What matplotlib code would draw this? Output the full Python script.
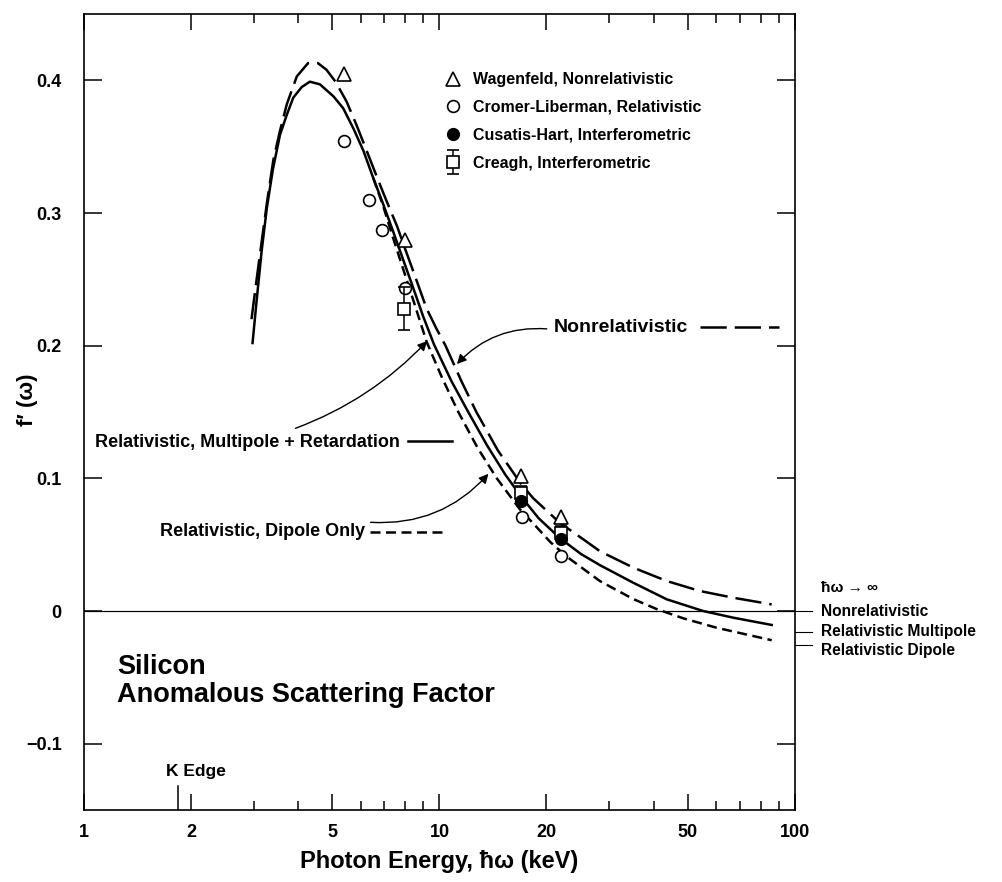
import matplotlib
matplotlib.use("Agg")
import matplotlib.pyplot as plt
from matplotlib.legend_handler import HandlerErrorbar

plt.rcParams['font.family'] = ['Liberation Sans', 'DejaVu Sans']
plt.rcParams['font.weight'] = 'bold'

# calculated curves, f'(omega) vs photon energy (keV)
e_nonrel = [2.96, 3.06, 3.16, 3.28, 3.41, 3.56, 3.72, 3.97, 4.27, 4.55, 4.81, 5.1, 5.48,
            5.85, 6.24, 6.65, 7.1, 7.6, 8.08, 8.6, 9.2, 9.8, 10.4, 11.54, 12.7, 14.6, 17.0,
            18.36, 21.8, 25.4, 28.3, 35.1, 43.6, 54.0, 67.1, 86]
f_nonrel = [0.220, 0.250, 0.278, 0.310, 0.340, 0.362, 0.382, 0.403, 0.413, 0.413, 0.408,
            0.399, 0.384, 0.366, 0.347, 0.328, 0.309, 0.290, 0.270, 0.250, 0.228, 0.213,
            0.200, 0.173, 0.150, 0.121, 0.0955, 0.085, 0.0665, 0.054, 0.045, 0.0327,
            0.0226, 0.0151, 0.010, 0.005]

e_multi = [2.98, 3.06, 3.16, 3.27, 3.40, 3.56, 3.72, 3.88, 4.10, 4.32, 4.61, 5.03, 5.36,
           5.72, 6.11, 6.51, 6.95, 7.41, 7.9, 8.4, 9.0, 9.65, 10.82, 12.05, 13.6, 15.3,
           17.0, 19.0, 21.8, 25.0, 28.3, 35.1, 43.6, 55.2, 67, 86]
f_multi = [0.202, 0.234, 0.271, 0.304, 0.333, 0.359, 0.374, 0.387, 0.395, 0.399, 0.397,
           0.388, 0.379, 0.364, 0.347, 0.3265, 0.3065, 0.286, 0.265, 0.245, 0.222, 0.201,
           0.173, 0.150, 0.125, 0.103, 0.086, 0.070, 0.055, 0.043, 0.0345, 0.0213, 0.0088,
           0.0, -0.005, -0.0105]

e_dipole = [6.51, 6.95, 7.41, 7.9, 8.4, 9.2, 10.2, 11.3, 12.8, 14.5, 16.8, 18.36, 20.5,
            22.8, 28.3, 35.1, 40.8, 48.5, 60.2, 86]
f_dipole = [0.3265, 0.305, 0.281, 0.258, 0.236, 0.203, 0.175, 0.150, 0.123, 0.100, 0.077,
            0.066, 0.052, 0.041, 0.0225, 0.009, 0.0015, -0.0055, -0.0126, -0.022]

# tabulated / measured points
e_wag = [5.4, 8.0, 17.0, 22.0]
f_wag = [0.405, 0.280, 0.1015, 0.0705]

e_cromer = [5.4, 6.35, 6.9, 8.0, 17.1, 22.0]
f_cromer = [0.354, 0.3095, 0.287, 0.2437, 0.0705, 0.0414]

e_cusatis = [17.0, 22.0]
f_cusatis = [0.083, 0.054]

e_creagh = [7.95, 17.0, 22.0]
f_creagh = [0.228, 0.089, 0.059]
err_creagh = [0.016, 0.005, 0.005]

# high energy limits
f_limits = [0.0, -0.0156, -0.0256]
limit_labels = ['Nonrelativistic', 'Relativistic Multipole', 'Relativistic Dipole']

k_edge = 1.839

x_major = [1, 2, 5, 10, 20, 50, 100]
x_minor = [3, 4, 6, 7, 8, 9, 30, 40, 60, 70, 80, 90]
y_ticks = [-0.1, 0.0, 0.1, 0.2, 0.3, 0.4]
y_labels = ['\u22120.1', '0', '0.1', '0.2', '0.3', '0.4']

fig = plt.figure(figsize=(10.03, 8.82), dpi=100)
ax = fig.add_axes([0.0837, 0.0816, 0.7089, 0.9025])

lw = 1.8
long_dash = (0, (10.5, 3.2))
short_dash = (0, (4.0, 2.2))

ax.plot(e_nonrel, f_nonrel, color='k', lw=lw, linestyle=long_dash)
ax.plot(e_dipole, f_dipole, color='k', lw=lw, linestyle=short_dash)
ax.plot(e_multi, f_multi, color='k', lw=lw)

ax.axhline(0, color='k', lw=0.8)

h_wag, = ax.plot(e_wag, f_wag, '^', ms=9.5, mfc='white', mec='k', mew=1.2, zorder=5,
                 label='Wagenfeld, Nonrelativistic')
h_cro, = ax.plot(e_cromer, f_cromer, 'o', ms=8.5, mfc='white', mec='k', mew=1.2, zorder=5,
                 label='Cromer-Liberman, Relativistic')
h_cus, = ax.plot(e_cusatis, f_cusatis, 'o', ms=8.5, mfc='k', mec='k', zorder=6,
                 label='Cusatis-Hart, Interferometric')
h_cre = ax.errorbar(e_creagh, f_creagh, yerr=err_creagh, fmt='s', ms=8, mfc='white', mec='k',
                    mew=1.2, ecolor='k', elinewidth=1.1, capsize=4, capthick=1.1, zorder=5,
                    label='Creagh, Interferometric')

ax.set_xscale('log')
ax.set_xlim(1, 100)
ax.set_ylim(-0.15, 0.45)
ax.set_xticks(x_major)
ax.set_xticklabels([str(v) for v in x_major])
ax.set_xticks(x_minor, minor=True)
ax.set_xticklabels([], minor=True)
ax.set_yticks(y_ticks)
ax.set_yticklabels(y_labels)
ax.tick_params(which='both', direction='in', top=True, right=True, width=1.1,
               labelsize=13)
ax.tick_params(axis='x', which='major', length=11.5, pad=10)
ax.tick_params(axis='x', which='minor', length=6.5)
ax.tick_params(axis='y', which='major', length=13, pad=16)
for s in ax.spines.values():
    s.set_linewidth(1.2)

ax.set_xlabel('Photon Energy, \u0127\u03c9 (keV)', fontsize=17, fontweight='bold')
ax.xaxis.set_label_coords(0.5, -0.05)
ax.set_ylabel('f\u2032 (\u03c9)', fontsize=16, fontweight='bold')
ax.yaxis.set_label_coords(-0.065, 0.515)

# K edge marker
ax.plot([k_edge, k_edge], [-0.15, -0.1319], color='k', lw=1.1)
ax.text(1.70, -0.1206, 'K Edge', fontsize=12.5, fontweight='bold', va='center', ha='left')

ax.text(1.238, -0.053, 'Silicon\nAnomalous Scattering Factor', fontsize=19.5,
        fontweight='bold', va='center', ha='left', linespacing=1.1)

leg = ax.legend(handles=[h_wag, h_cro, h_cus, h_cre], loc='upper left',
                bbox_to_anchor=(0.487, 0.945), frameon=False, fontsize=11.5,
                handlelength=1.0, handletextpad=0.75, labelspacing=0.8,
                handler_map={h_cre: HandlerErrorbar(yerr_size=0.75)})
for t in leg.get_texts():
    t.set_fontweight('bold')

arrow = dict(arrowstyle='-|>', color='k', lw=1.0, mutation_scale=14)

# curve labels with arrows
ax.text(20.9, 0.214, 'Nonrelativistic', fontsize=14, fontweight='bold', va='center', ha='left')
ax.plot([54, 90], [0.214, 0.214], color='k', lw=lw, linestyle=long_dash)
ax.annotate('', xy=(11.06, 0.1846), xytext=(20.4, 0.2125),
            arrowprops=dict(connectionstyle='arc3,rad=0.25', **arrow))

ax.text(7.74, 0.1274, 'Relativistic, Multipole + Retardation', fontsize=13,
        fontweight='bold', va='center', ha='right')
ax.plot([8.15, 10.84], [0.128, 0.128], color='k', lw=lw)
ax.annotate('', xy=(9.35, 0.205), xytext=(3.87, 0.137),
            arrowprops=dict(connectionstyle='arc3,rad=0.12', **arrow))

ax.text(6.17, 0.0603, 'Relativistic, Dipole Only', fontsize=13, fontweight='bold',
        va='center', ha='right')
ax.plot([6.37, 10.16], [0.0595, 0.0595], color='k', lw=lw, linestyle=short_dash)
ax.annotate('', xy=(13.9, 0.105), xytext=(6.29, 0.067),
            arrowprops=dict(connectionstyle='arc3,rad=0.25', **arrow))

# high-energy limits outside the right spine
ax.plot([1, 111.6], [f_limits[0], f_limits[0]], color='k', lw=0.8, clip_on=False)
for f in f_limits[1:]:
    ax.plot([100, 111.6], [f, f], color='k', lw=0.8, clip_on=False)
ax.text(118.4, 0.0173, '\u0127\u03c9 \u2192 \u221e', fontsize=11, fontweight='bold',
        va='center', ha='left')
label_y = [0.0, -0.0158, -0.030]
for lab, yy in zip(limit_labels, label_y):
    ax.text(118.4, yy, lab, fontsize=11.2, fontweight='bold', va='center', ha='left')

fig.savefig('out.png', dpi=100)
